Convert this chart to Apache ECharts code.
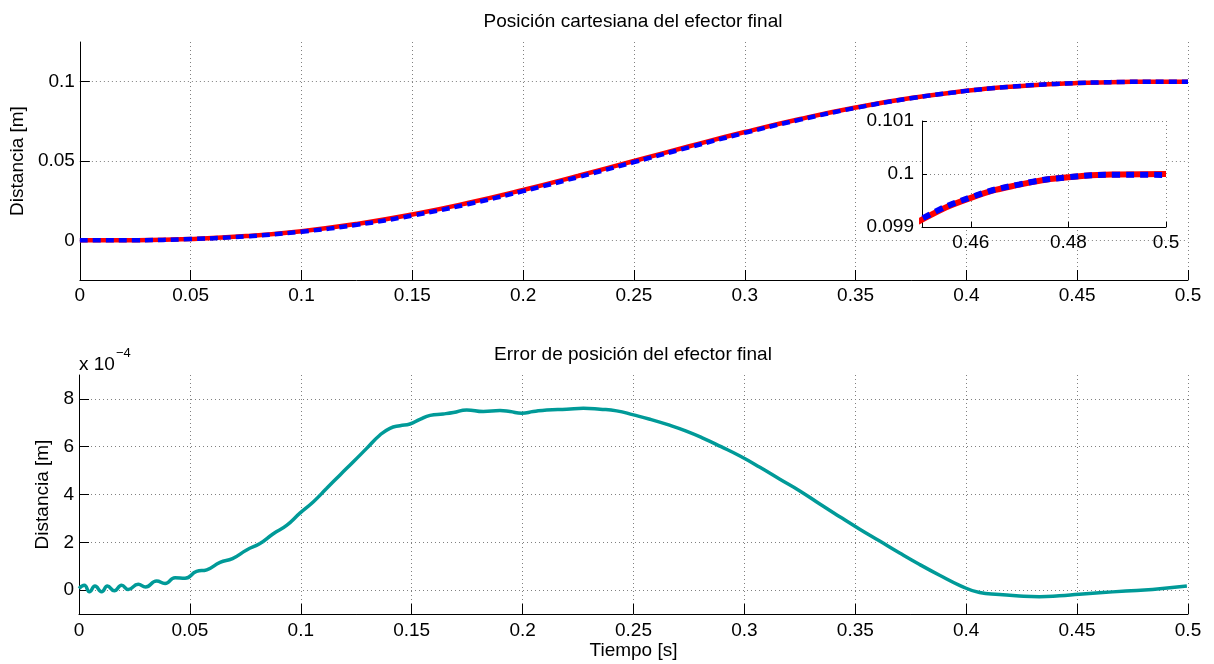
<!DOCTYPE html>
<html>
<head>
<meta charset="utf-8">
<script src="https://cdn.jsdelivr.net/npm/echarts@6/dist/echarts.min.js"></script>
<style>
  html, body { margin: 0; padding: 0; background: #fff; }
  #chart { width: 1214px; height: 664px; }
</style>
</head>
<body>
<div id="chart"></div>
<script>
// Cartesian position of the end effector: reference vs. measured [m]
const timePos = [0, 0.025, 0.05, 0.075, 0.1, 0.125, 0.15, 0.175, 0.2, 0.225, 0.25, 0.275, 0.3, 0.325,
  0.35, 0.375, 0.4, 0.41, 0.42, 0.43, 0.44, 0.45, 0.46, 0.47, 0.48, 0.49, 0.5];
const posReference = [0, 0.000116, 0.000856, 0.00266, 0.00579, 0.01035, 0.01631, 0.02352, 0.03174,
  0.04069, 0.05, 0.05931, 0.06826, 0.07648, 0.08369, 0.08965, 0.09421, 0.09563, 0.09682, 0.0978,
  0.09857, 0.09914, 0.09955, 0.0998, 0.09994, 0.099992, 0.1];
const posActual = [0, 0.000096, 0.000796, 0.002495, 0.005465, 0.009805, 0.01562, 0.02277, 0.031,
  0.03993, 0.04927, 0.05865, 0.06771, 0.07606, 0.08343, 0.08952, 0.0942, 0.095645, 0.096842,
  0.097827, 0.098595, 0.099158, 0.099561, 0.099805, 0.099939, 0.099985, 0.099983];

// Position error of the end effector, in units of 1e-4 m
const timeErr = [0, 0.0024, 0.0047, 0.0072, 0.0102, 0.0128, 0.0159, 0.0192, 0.0222, 0.0267, 0.030,
  0.035, 0.0388, 0.0433, 0.0478, 0.053, 0.0576, 0.0636, 0.0692, 0.0756, 0.0816, 0.0876, 0.0936,
  0.0996, 0.1057, 0.1117, 0.1177, 0.1237, 0.1297, 0.1357, 0.1402, 0.1447, 0.1492, 0.1537, 0.1583,
  0.1642, 0.1688, 0.1748, 0.1823, 0.1898, 0.1943, 0.1996, 0.2048, 0.2109, 0.2199, 0.2274, 0.2349,
  0.2424, 0.25, 0.2574, 0.2655, 0.2735, 0.2815, 0.2895, 0.298, 0.307, 0.316, 0.325, 0.334, 0.343,
  0.352, 0.361, 0.370, 0.379, 0.388, 0.397, 0.406, 0.415, 0.424, 0.433, 0.442,
  0.451, 0.460, 0.472, 0.484, 0.4995];
const errorE4 = [0.07, 0.2, -0.07, 0.17, -0.07, 0.17, -0.03, 0.2, 0.02, 0.25, 0.13,
  0.38, 0.28, 0.52, 0.5, 0.78, 0.85, 1.16, 1.32, 1.68, 1.95, 2.36, 2.71,
  3.22, 3.70, 4.26, 4.82, 5.37, 5.93, 6.49, 6.77, 6.88, 6.95, 7.14, 7.31,
  7.37, 7.43, 7.54, 7.47, 7.51, 7.47, 7.40, 7.47, 7.54, 7.57, 7.61, 7.57,
  7.50, 7.33, 7.15, 6.92, 6.66, 6.35, 6.00, 5.61, 5.14, 4.64, 4.15, 3.60, 3.07,
  2.55, 2.05, 1.55, 1.07, 0.62, 0.20, -0.10, -0.18, -0.25, -0.28, -0.24,
  -0.17, -0.11, -0.04, 0.03, 0.17];

// Tick values
const posTicks = [0, 0.05, 0.1];
const errTicks = [0, 2, 4, 6, 8];
const zoomTimeTicks = [0.46, 0.48, 0.5];
const zoomPosTicks = [0.099, 0.1, 0.101];

const FONT = 'Liberation Sans, Arial, Helvetica, sans-serif';
const FS = 19;
const zip = (xs, ys) => xs.map((x, i) => [x, ys[i]]);
const fmt = v => String(+(+v).toFixed(4));

const gridLine = { show: true, lineStyle: { color: '#808080', width: 1, type: [1, 3] } };
const axisLineStyle = { show: true, onZero: false, lineStyle: { color: '#000', width: 1 } };
const tick = (extra) => Object.assign({ show: true, inside: true, length: 10, lineStyle: { color: '#000' } }, extra || {});
const label = (extra) => Object.assign({ color: '#000', fontSize: FS, fontFamily: FONT, formatter: fmt }, extra || {});

const chart = echarts.init(document.getElementById('chart'), null, { renderer: 'canvas' });

chart.setOption({
  backgroundColor: '#fff',
  animation: false,
  title: [
    { text: 'Posición cartesiana del efector final', left: 633, top: 12, textAlign: 'center', padding: 0,
      textStyle: { fontSize: FS, fontWeight: 'normal', fontFamily: FONT, color: '#000' } },
    { text: 'Error de posición del efector final', left: 633, top: 345, textAlign: 'center', padding: 0,
      textStyle: { fontSize: FS, fontWeight: 'normal', fontFamily: FONT, color: '#000' } }
  ],
  grid: [
    { left: 79, top: 42, width: 1109, height: 238, containLabel: false },
    { left: 79, top: 375, width: 1109, height: 239, containLabel: false },
    { left: 922, top: 121, width: 244, height: 106, containLabel: false, show: true,
      backgroundColor: '#fff', borderWidth: 0, z: 5 }
  ],
  xAxis: [
    { type: 'value', gridIndex: 0, min: 0, max: 0.5, interval: 0.05,
      axisLine: axisLineStyle, axisTick: tick(), splitLine: gridLine,
      axisLabel: label({ margin: 6 }) },
    { type: 'value', gridIndex: 1, min: 0, max: 0.5, interval: 0.05,
      name: 'Tiempo [s]', nameLocation: 'middle', nameGap: 27,
      nameTextStyle: { fontSize: FS, fontFamily: FONT, color: '#000' },
      axisLine: axisLineStyle, axisTick: tick(), splitLine: gridLine,
      axisLabel: label({ margin: 7 }) },
    { type: 'value', gridIndex: 2, min: 0.45, max: 0.5, z: 6,
      axisLine: axisLineStyle, axisTick: tick({ length: 5, customValues: zoomTimeTicks }),
      splitLine: gridLine,
      axisLabel: label({ margin: 6, customValues: zoomTimeTicks }) }
  ],
  yAxis: [
    { type: 'value', gridIndex: 0, min: -0.025, max: 0.125,
      name: 'Distancia [m]', nameLocation: 'middle', nameGap: 47, nameRotate: 90,
      nameTextStyle: { fontSize: FS, fontFamily: FONT, color: '#000' },
      axisLine: axisLineStyle, axisTick: tick({ customValues: posTicks }), splitLine: gridLine,
      axisLabel: label({ margin: 5, customValues: posTicks }) },
    { type: 'value', gridIndex: 1, min: -1, max: 9,
      name: 'Distancia [m]', nameLocation: 'middle', nameGap: 15, nameRotate: 90,
      nameTextStyle: { fontSize: FS, fontFamily: FONT, color: '#000' },
      axisLine: axisLineStyle, axisTick: tick({ customValues: errTicks }), splitLine: gridLine,
      axisLabel: label({ margin: 5, customValues: errTicks }) },
    { type: 'value', gridIndex: 2, min: 0.099, max: 0.101, z: 6,
      axisLine: axisLineStyle, axisTick: tick({ length: 5, customValues: zoomPosTicks }),
      splitLine: gridLine,
      axisLabel: label({ margin: 8, customValues: zoomPosTicks }) }
  ],
  graphic: [
    { type: 'text', left: 79, top: 355, z: 10,
      style: { text: 'x 10', fontSize: FS, fontFamily: FONT, fill: '#000' } },
    { type: 'text', left: 116, top: 347, z: 10,
      style: { text: '\u22124', fontSize: 13, fontFamily: FONT, fill: '#000' } }
  ],
  series: [
    { name: 'Referencia', type: 'line', xAxisIndex: 0, yAxisIndex: 0, data: zip(timePos, posReference),
      showSymbol: false, smooth: 0.5,
      lineStyle: { color: '#ff0000', width: 4.5 } },
    { name: 'Real', type: 'line', xAxisIndex: 0, yAxisIndex: 0, data: zip(timePos, posActual),
      showSymbol: false, smooth: 0.5,
      lineStyle: { color: '#0000ff', width: 4.5, type: [8, 5] } },
    { name: 'Referencia', type: 'line', xAxisIndex: 2, yAxisIndex: 2, data: zip(timePos, posReference),
      showSymbol: false, smooth: 0.5, z: 7, clip: true,
      lineStyle: { color: '#ff0000', width: 6 } },
    { name: 'Real', type: 'line', xAxisIndex: 2, yAxisIndex: 2, data: zip(timePos, posActual),
      showSymbol: false, smooth: 0.5, z: 8, clip: true,
      lineStyle: { color: '#0000ff', width: 6, type: [8, 6] } },
    { name: 'Error', type: 'line', xAxisIndex: 1, yAxisIndex: 1, data: zip(timeErr, errorE4),
      showSymbol: false, smooth: 0.5,
      lineStyle: { color: '#009a98', width: 3.5 } }
  ]
});
</script>
</body>
</html>
